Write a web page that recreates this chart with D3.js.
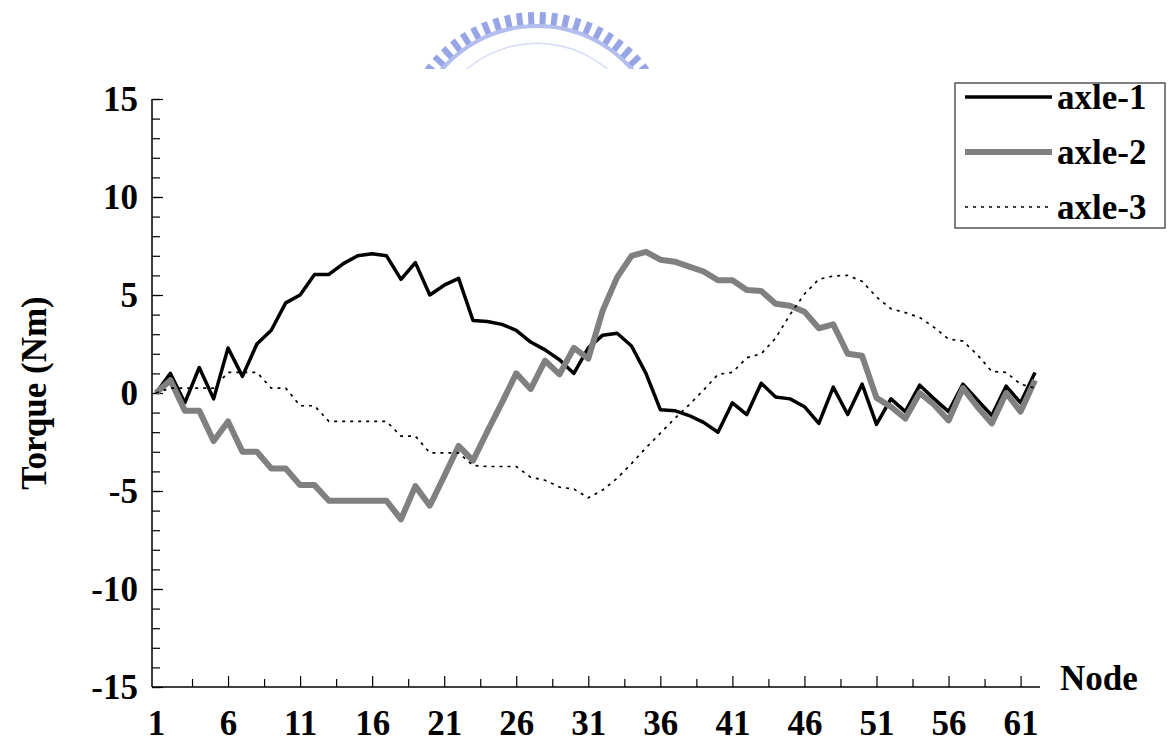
<!DOCTYPE html>
<html lang="en">
<head>
<meta charset="UTF-8">
<title>Torque per node</title>
<script src="https://d3js.org/d3.v7.min.js"></script>
<style>
  body { margin: 0; background: #fff; }
  svg { display: block; }
  svg text { font-family: "Liberation Serif", "Times New Roman", serif; font-weight: bold; fill: #000; }
</style>
</head>
<body>
<svg></svg>

<script>
  // node numbers along the shaft
  const nodes = [1, 2, 3, 4, 5, 6, 7, 8, 9, 10, 11, 12, 13, 14, 15, 16, 17, 18, 19, 20,
    21, 22, 23, 24, 25, 26, 27, 28, 29, 30, 31, 32, 33, 34, 35, 36, 37, 38, 39, 40,
    41, 42, 43, 44, 45, 46, 47, 48, 49, 50, 51, 52, 53, 54, 55, 56, 57, 58, 59, 60, 61, 62]

  // torque (Nm)
  const axle1 = [0, 1.0, -0.5, 1.3, -0.3, 2.3, 0.85, 2.5, 3.2, 4.6,
    5.0, 6.05, 6.05, 6.6, 7.0, 7.1, 7.0, 5.8, 6.65, 5.0,
    5.5, 5.85, 3.7, 3.65, 3.5, 3.2, 2.6, 2.2, 1.7, 1.0,
    2.3, 2.95, 3.05, 2.4, 1.0, -0.85, -0.9, -1.15, -1.5, -2.0,
    -0.5, -1.1, 0.5, -0.2, -0.3, -0.7, -1.55, 0.3, -1.1, 0.45,
    -1.6, -0.3, -0.95, 0.4, -0.3, -0.95, 0.45, -0.35, -1.15, 0.35,
    -0.5, 1.05]

  const axle2 = [0, 0.65, -0.9, -0.9, -2.45, -1.45, -3.0, -3.0, -3.85, -3.85,
    -4.7, -4.7, -5.5, -5.5, -5.5, -5.5, -5.5, -6.45, -4.75, -5.75,
    -4.25, -2.7, -3.45, -1.95, -0.5, 1.0, 0.2, 1.65, 0.95, 2.3,
    1.75, 4.2, 5.9, 7.0, 7.2, 6.8, 6.7, 6.45, 6.2, 5.75,
    5.75, 5.25, 5.2, 4.55, 4.45, 4.15, 3.3, 3.5, 2.0, 1.9,
    -0.25, -0.7, -1.3, 0.0, -0.6, -1.4, 0.25, -0.7, -1.55, 0.0,
    -0.95, 0.65]

  const axle3 = [0, 0.25, 0.25, 0.25, 0.25, 1.05, 1.05, 1.05, 0.25, 0.25,
    -0.65, -0.65, -1.45, -1.45, -1.45, -1.45, -1.45, -2.2, -2.2, -3.05,
    -3.05, -3.05, -3.7, -3.75, -3.75, -3.75, -4.3, -4.45, -4.8, -4.9,
    -5.35, -4.95, -4.35, -3.6, -2.8, -2.05, -1.3, -0.6, 0.15, 0.95,
    1.05, 1.8, 2.0, 2.8, 4.0, 5.05, 5.8, 5.97, 6.0, 5.7,
    4.9, 4.3, 4.1, 3.85, 3.35, 2.75, 2.65, 1.95, 1.1, 1.05,
    0.45, 0.25]

  const seriesNames = ['axle-1', 'axle-2', 'axle-3']
  const xTickLabels = [1, 6, 11, 16, 21, 26, 31, 36, 41, 46, 51, 56, 61]
  const yTickLabels = [-15, -10, -5, 0, 5, 10, 15]

  const width = 1169
  const height = 749
  const fontSize = 35

  const svg = d3.select('svg')
    .attr('width', width)
    .attr('height', height)

  // faint logo watermark at the top (scan artefact)
  const clip = svg.append('clipPath').attr('id', 'logoClip')
  clip.append('rect').attr('x', 0).attr('y', 0).attr('width', width).attr('height', 69)
  const logo = svg.append('g')
    .attr('clip-path', 'url(#logoClip)')
    .append('g')
    .attr('transform', 'translate(537,152)')
  logo.selectAll('rect')
    .data(d3.range(-52, 53, 4.95))
    .join('rect')
    .attr('x', -3)
    .attr('y', -140)
    .attr('width', 6)
    .attr('height', 14)
    .attr('transform', a => `rotate(${a})`)
    .attr('fill', '#97a5e6')
  logo.append('path')
    .attr('d', d3.arc()({ innerRadius: 124, outerRadius: 128, startAngle: -0.95, endAngle: 0.95 }))
    .attr('fill', '#b3bdee')
  logo.append('path')
    .attr('d', d3.arc()({ innerRadius: 108, outerRadius: 109.5, startAngle: -0.9, endAngle: 0.9 }))
    .attr('fill', '#d5dbf5')

  const x = d3.scaleLinear().domain([1, 62]).range([156, 1035])
  const y = d3.scaleLinear().domain([-15, 15]).range([687, 99])
  const axisLeftX = 152
  const axisRightX = 1040
  const plain = d => String(d)

  // y axis: ticks pointing into the plot, labels on the left
  const yAxis = svg.append('g').attr('transform', `translate(${axisLeftX},0)`)
  yAxis.append('g')
    .call(d3.axisRight(y).tickValues(d3.range(-15, 16, 1)).tickSize(8).tickFormat(''))
    .call(g => g.select('.domain').remove())
  yAxis.append('g')
    .call(d3.axisRight(y).tickValues(yTickLabels).tickSize(11).tickFormat(''))
    .call(g => g.select('.domain').remove())
  yAxis.append('g')
    .call(d3.axisLeft(y).tickValues(yTickLabels).tickSize(0).tickPadding(14).tickFormat(plain))
    .call(g => g.select('.domain').remove())
    .selectAll('text')
    .attr('font-size', fontSize)
  yAxis.append('line')
    .attr('y1', y(15))
    .attr('y2', y(-15))
    .attr('stroke', '#000')
    .attr('stroke-width', 1.5)

  // x axis at the bottom
  const xAxis = svg.append('g').attr('transform', `translate(0,${y(-15)})`)
  xAxis.append('g')
    .call(d3.axisTop(x).tickValues(d3.range(3.5, 62, 5)).tickSize(8).tickFormat(''))
    .call(g => g.select('.domain').remove())
  xAxis.append('g')
    .call(d3.axisTop(x).tickValues(xTickLabels.slice(1)).tickSize(11).tickFormat(''))
    .call(g => g.select('.domain').remove())
  xAxis.append('g')
    .call(d3.axisBottom(x).tickValues(xTickLabels).tickSize(0).tickPadding(23).tickFormat(plain))
    .call(g => g.select('.domain').remove())
    .selectAll('text')
    .attr('font-size', fontSize)
  xAxis.append('line')
    .attr('x1', axisLeftX)
    .attr('x2', axisRightX)
    .attr('stroke', '#000')
    .attr('stroke-width', 1.5)
  svg.selectAll('.tick line').attr('stroke', '#000').attr('stroke-width', 1.2)

  // axis titles
  svg.append('text')
    .attr('transform', `translate(46,${y(0)}) rotate(-90)`)
    .attr('text-anchor', 'middle')
    .attr('font-size', fontSize)
    .text('Torque (Nm)')

  svg.append('text')
    .attr('x', 1060)
    .attr('y', 690)
    .attr('font-size', fontSize)
    .text('Node')

  // series
  const series = [
    { name: seriesNames[0], values: axle1, color: '#000', width: 3.5, dash: null },
    { name: seriesNames[1], values: axle2, color: '#808080', width: 6, dash: null },
    { name: seriesNames[2], values: axle3, color: '#000', width: 1.7, dash: '3,5' }
  ]

  const line = d3.line()
    .x((d, i) => x(nodes[i]))
    .y(d => y(d))

  svg.append('g')
    .selectAll('path')
    .data(series)
    .join('path')
    .attr('d', d => line(d.values))
    .attr('fill', 'none')
    .attr('stroke', d => d.color)
    .attr('stroke-width', d => d.width)
    .attr('stroke-dasharray', d => d.dash)
    .attr('stroke-linejoin', 'round')

  // legend box in the top right corner
  const legend = svg.append('g').attr('transform', 'translate(955,83)')
  legend.append('rect')
    .attr('width', 210)
    .attr('height', 145)
    .attr('fill', '#fff')
    .attr('stroke', '#555')
    .attr('stroke-width', 1.5)

  const item = legend.selectAll('g')
    .data(series)
    .join('g')
    .attr('transform', (d, i) => `translate(0,${14 + i * 55})`)
  item.append('line')
    .attr('x1', 10)
    .attr('x2', 97)
    .attr('stroke', d => d.color)
    .attr('stroke-width', d => d.width)
    .attr('stroke-dasharray', d => d.dash)
  item.append('text')
    .attr('x', 102)
    .attr('y', 12)
    .attr('font-size', fontSize)
    .text(d => d.name)
</script>
</body>
</html>
